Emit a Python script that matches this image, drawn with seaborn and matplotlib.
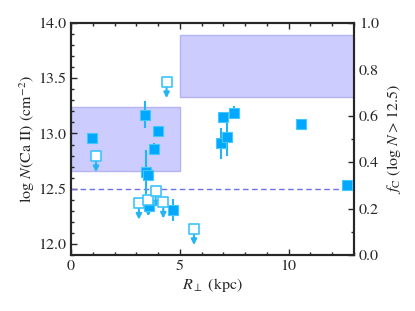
import numpy as np
import matplotlib
matplotlib.use("Agg")
import matplotlib.pyplot as plt
import seaborn as sns
import pandas as pd

# detections: R_perp (kpc), log N(CaII), 1-sigma error
x_det = [0.98, 3.40, 3.43, 3.52, 3.60, 3.83, 3.98, 4.67, 6.88, 7.00, 7.18, 7.50, 10.57, 12.66]
y_det = [12.96, 13.17, 12.65, 12.62, 12.34, 12.86, 13.02, 12.31, 12.91, 13.15, 12.97, 13.19, 13.09, 12.53]
e_det = [0.02, 0.12, 0.20, 0.03, 0.07, 0.05, 0.05, 0.10, 0.14, 0.02, 0.17, 0.06, 0.02, 0.03]

# upper limits
x_lim = [1.15, 3.12, 3.55, 3.89, 4.24, 4.39, 5.65]
y_lim = [12.80, 12.37, 12.40, 12.48, 12.38, 13.47, 12.14]

# covering fraction bins
bin_lo = [0.0, 5.0]
bin_hi = [5.0, 13.0]
fc_lo = [0.36, 0.68]
fc_hi = [0.64, 0.95]

threshold = 12.5

sns.set_style("ticks")
plt.rcParams["font.family"] = ["STIXGeneral", "DejaVu Serif"]
plt.rcParams["mathtext.fontset"] = "stix"

det = pd.DataFrame({"R": x_det, "logN": y_det, "err": e_det})
lim = pd.DataFrame({"R": x_lim, "logN": y_lim})

fig = plt.figure(figsize=(4.15, 3.11), dpi=100)
ax = fig.add_axes([0.171, 0.18, 0.682, 0.746])
ax2 = ax.twinx()

# covering fraction boxes on right axis
for x0, x1, lo, hi in zip(bin_lo, bin_hi, fc_lo, fc_hi):
    ax2.fill_between([x0, x1], [lo, lo], [hi, hi], facecolor="#ccccff",
                     edgecolor="#b4b4f0", lw=1.0)
ax2.set_ylim(0, 1.0)
ax2.set_yticks(np.arange(0, 1.01, 0.2))
ax2.set_yticklabels([f"{v:.1f}" for v in np.arange(0, 1.01, 0.2)])
ax2.set_yticks(np.arange(0.1, 1.0, 0.2), minor=True)
ax2.set_ylabel(r"$f_{\rm C}$ (log $N > 12.5$)", fontsize=11.5, labelpad=4)

ax.set_zorder(ax2.get_zorder() + 1)
ax.patch.set_visible(False)

ax.axhline(threshold, ls=(0, (4, 2.5)), color="#7070ea", lw=1.0, zorder=1)

ax.errorbar(det["R"], det["logN"], yerr=det["err"], fmt="none",
            ecolor="#22b4f5", elinewidth=1.5, capsize=0, zorder=2)
sns.scatterplot(data=det, x="R", y="logN", marker="s", s=45, color="#00a8ff",
                edgecolor="#44c8ff", linewidth=0.8, ax=ax, zorder=3)

for xx, yy in zip(lim["R"], lim["logN"]):
    ax.annotate("", xy=(xx, yy - 0.15), xytext=(xx, yy), xycoords="data",
                arrowprops=dict(arrowstyle="-|>", color="#22b4f5", lw=1.5,
                                mutation_scale=8, shrinkA=0, shrinkB=0),
                zorder=2)
sns.scatterplot(data=lim, x="R", y="logN", marker="s", s=58, color="white",
                edgecolor="#3cc4ff", linewidth=1.2, ax=ax, zorder=4)

ax.set_xlim(0, 13)
ax.set_ylim(11.9, 14.0)
ax.set_xticks([0, 5, 10])
ax.set_xticks(np.arange(0, 13.1, 1), minor=True)
ax.set_yticks([12.0, 12.5, 13.0, 13.5, 14.0])
ax.set_yticklabels(["12.0", "12.5", "13.0", "13.5", "14.0"])
ax.set_yticks(np.arange(11.9, 14.0, 0.1), minor=True)
ax.set_xlabel(r"$R_\perp$ (kpc)", fontsize=11.5, labelpad=2)
ax.set_ylabel(r"log $N$(Ca II) (cm$^{-2}$)", fontsize=11.5, labelpad=1)

for a in (ax, ax2):
    for sp in a.spines.values():
        sp.set_linewidth(1.5)
        sp.set_visible(True)
    a.tick_params(which="both", direction="in", labelsize=11.5, width=1.0)
    a.tick_params(which="major", length=4)
    a.tick_params(which="minor", length=2)
ax.tick_params(which="both", top=True, right=False)
ax2.tick_params(which="both", left=False, right=True)

fig.savefig("out.png", dpi=100)
